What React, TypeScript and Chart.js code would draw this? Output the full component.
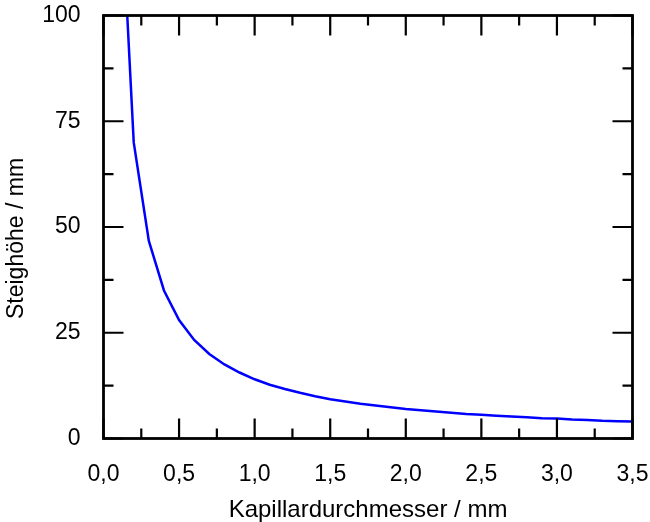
import { useEffect, useRef } from "react";
import { Chart, registerables } from "chart.js";

Chart.register(...registerables);

// Capillary diameter (mm) and rise height (mm)
const diameters = [
  0.1, 0.2, 0.3, 0.4, 0.5, 0.6, 0.7, 0.8, 0.9, 1.0,
  1.1, 1.2, 1.3, 1.4, 1.5, 1.6, 1.7, 1.8, 1.9, 2.0,
  2.1, 2.2, 2.3, 2.4, 2.5, 2.6, 2.7, 2.8, 2.9, 3.0,
  3.1, 3.2, 3.3, 3.4, 3.5,
];
const heights = [
  140, 70, 46.7, 35, 28, 23.3, 20, 17.5, 15.6, 14,
  12.7, 11.7, 10.8, 10, 9.3, 8.75, 8.2, 7.8, 7.4, 7.0,
  6.7, 6.4, 6.1, 5.8, 5.6, 5.4, 5.2, 5.0, 4.8, 4.7,
  4.5, 4.4, 4.2, 4.1, 4.0,
];

const xMajorTicks = [0, 0.5, 1.0, 1.5, 2.0, 2.5, 3.0, 3.5];
const xMinorTicks = [0.25, 0.75, 1.25, 1.75, 2.25, 2.75, 3.25];
const yMajorTicks = [0, 25, 50, 75, 100];
const yMinorTicks = [12.5, 37.5, 62.5, 87.5];

const xTitle = "Kapillardurchmesser / mm";
const yTitle = "Steighöhe / mm";

const FONT = "'Liberation Sans', Arial, sans-serif";

const framePlugin = {
  id: "frameTicks",
  afterDatasetsDraw(chart: any) {
    const { ctx, chartArea, scales } = chart;
    const { left, right, top, bottom } = chartArea;
    const xs = scales.x;
    const ys = scales.y;
    ctx.save();
    ctx.strokeStyle = "#000";
    ctx.lineCap = "butt";
    ctx.lineWidth = 2.2;
    const drawX = (v: number, len: number) => {
      const px = xs.getPixelForValue(v);
      ctx.beginPath();
      ctx.moveTo(px, bottom);
      ctx.lineTo(px, bottom - len);
      ctx.moveTo(px, top);
      ctx.lineTo(px, top + len);
      ctx.stroke();
    };
    const drawY = (v: number, len: number) => {
      const py = ys.getPixelForValue(v);
      ctx.beginPath();
      ctx.moveTo(left, py);
      ctx.lineTo(left + len, py);
      ctx.moveTo(right, py);
      ctx.lineTo(right - len, py);
      ctx.stroke();
    };
    xMajorTicks.forEach((v) => drawX(v, 20));
    xMinorTicks.forEach((v) => drawX(v, 10));
    yMajorTicks.forEach((v) => drawY(v, 20));
    yMinorTicks.forEach((v) => drawY(v, 10));
    ctx.lineWidth = 2.8;
    ctx.lineJoin = "miter";
    ctx.strokeRect(left, top, right - left, bottom - top);
    ctx.fillStyle = "#000";
    ctx.textAlign = "center";
    ctx.textBaseline = "alphabetic";
    ctx.font = `24px ${FONT}`;
    ctx.fillText(xTitle, (left + right) / 2, 516.5);
    ctx.font = `23px ${FONT}`;
    ctx.translate(17, 238.5);
    ctx.rotate(-Math.PI / 2);
    ctx.textBaseline = "middle";
    ctx.fillText(yTitle, 0, 0);
    ctx.restore();
  },
};

const zeroPad = (scale: any) => {
  scale.paddingTop = 0;
  scale.paddingBottom = 0;
  scale.paddingLeft = 0;
  scale.paddingRight = 0;
};

export default function App() {
  const canvasRef = useRef<HTMLCanvasElement | null>(null);

  useEffect(() => {
    document.body.style.margin = "0";
    const canvas = canvasRef.current;
    if (!canvas) return;
    const chart = new Chart(canvas, {
      type: "line",
      data: {
        datasets: [
          {
            data: diameters.map((d, i) => ({ x: d, y: heights[i] })),
            borderColor: "#0000ff",
            backgroundColor: "#0000ff",
            borderWidth: 2.5,
            pointRadius: 0,
            tension: 0,
            fill: false,
          },
        ],
      },
      options: {
        responsive: false,
        animation: false,
        devicePixelRatio: 1,
        layout: { padding: { top: 15.5, right: 17.5, left: 0, bottom: 0 } },
        plugins: {
          legend: { display: false },
          tooltip: { enabled: false },
          title: { display: false },
        },
        scales: {
          x: {
            type: "linear",
            min: 0,
            max: 3.5,
            grid: { display: false, drawTicks: false },
            border: { display: false },
            ticks: {
              stepSize: 0.5,
              color: "#000",
              padding: 22,
              maxRotation: 0,
              font: { family: FONT, size: 23 },
              callback: (v: any) => Number(v).toFixed(1).replace(".", ","),
            },
            afterFit: (scale: any) => {
              scale.height = 83.5;
              zeroPad(scale);
            },
          },
          y: {
            type: "linear",
            min: 0,
            max: 100,
            grid: { display: false, drawTicks: false },
            border: { display: false },
            ticks: {
              stepSize: 25,
              color: "#000",
              padding: 23,
              font: { family: FONT, size: 23 },
            },
            afterFit: (scale: any) => {
              scale.width = 103.5;
              zeroPad(scale);
            },
          },
        },
      },
      plugins: [framePlugin],
    });
    return () => chart.destroy();
  }, []);

  return (
    <div style={{ width: 650, height: 522, background: "#fff" }}>
      <canvas ref={canvasRef} width={650} height={522} style={{ display: "block" }} />
    </div>
  );
}
